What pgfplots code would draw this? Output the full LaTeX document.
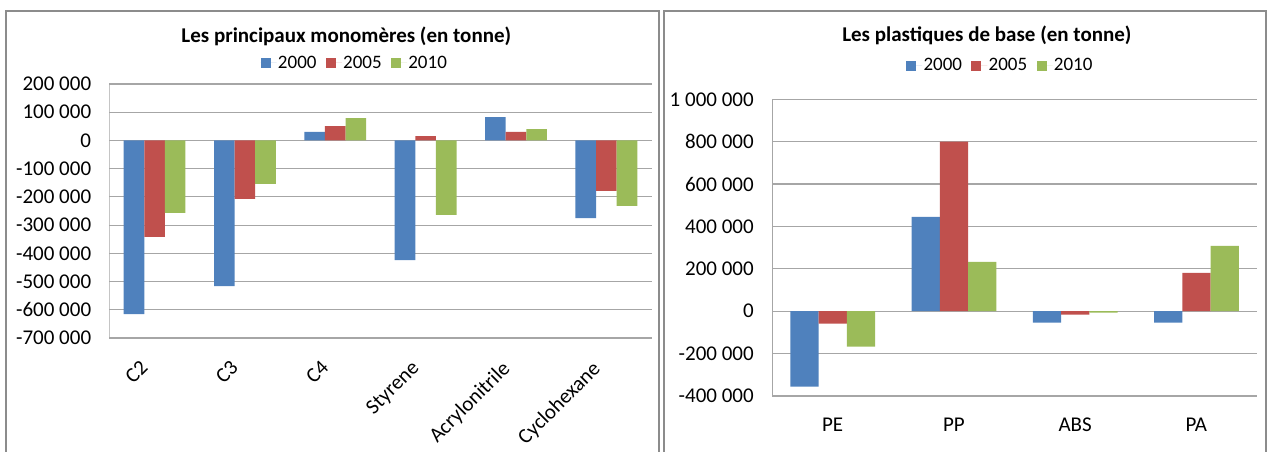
\documentclass[border=0pt]{standalone}
\usepackage{pgfplots}
\pgfplotsset{compat=1.18}
\usepackage{pgfplotstable}
\usepackage{fontspec}
\setmainfont{Carlito}
\definecolor{cA}{HTML}{4F81BD}
\definecolor{cB}{HTML}{C0504D}
\definecolor{cC}{HTML}{9BBB59}
\definecolor{gridc}{HTML}{A6A6A6}
\definecolor{framec}{HTML}{8C8C8C}

\pgfplotstableread{
x y2000 y2005 y2010
0 -615000 -342000 -257000
1 -516000 -207000 -154000
2 30000 51000 79000
3 -424000 15000 -264000
4 83000 30000 40000
5 -275000 -179000 -232000
}\monomeres

\pgfplotstableread{
x y2000 y2005 y2010
0 -356000 -58000 -167000
1 445000 800000 233000
2 -54000 -16000 -6000
3 -54000 181000 308000
}\plastiques

\pgfplotsset{
  excel/.style={
    scale only axis, ybar, enlargelimits=false,
    axis line style={draw=none},
    major tick length=0pt,
    ymajorgrids, grid style={gridc, line width=0.9pt},
    xtick=data, scaled y ticks=false,
    yticklabel style={font=\fontsize{15.75}{18}\selectfont, anchor=east, inner sep=0pt, xshift=-13.5pt},
    legend columns=3,
    legend style={draw=none, fill=none, font=\fontsize{14.25}{16}\selectfont, inner sep=0pt,
      nodes={inner sep=1pt},
      /tikz/every even column/.append style={column sep=6pt}},
    legend image code/.code={\fill[##1] (0pt,-3.75pt) rectangle (7.5pt,3.75pt); \path (0pt,0pt) -- (12pt,0pt);},
    title style={font=\bfseries\fontsize{15.75}{18}\selectfont},
  }
}

\begin{document}
\begin{tikzpicture}
\path[use as bounding box] (0,0) rectangle (951pt,338.25pt);
\draw[framec, line width=1.1pt] (4.5pt,-2pt) -- (4.5pt,330pt) -- (494.25pt,330pt) -- (494.25pt,-2pt);
\draw[framec, line width=1.1pt] (498pt,-2pt) -- (498pt,330pt) -- (949.5pt,330pt) -- (949.5pt,-2pt);

\begin{scope}[shift={(82.05pt,84.75pt)}]
\begin{axis}[excel,
  at={(0pt,0pt)}, anchor=south west,
  width=406.6pt, height=190.5pt,
  xmin=-0.5, xmax=5.5, ymin=-700000, ymax=200000,
  bar width=0.228,
  ytick={-700000,-600000,-500000,-400000,-300000,-200000,-100000,0,100000,200000},
  yticklabels={-700 000,-600 000,-500 000,-400 000,-300 000,-200 000,-100 000,0,100 000,200 000},
  xticklabels={C2,C3,C4,Styrene,Acrylonitrile,Cyclohexane},
  xticklabel style={font=\fontsize{15.75}{18}\selectfont, inner sep=0pt, xshift=-11.5pt, yshift=-16pt, rotate=45, anchor=north east},
  title={Les principaux monomères (en tonne)},
  title style={at={(0.437,1.158)}, anchor=center},
  legend style={at={(0.452,1.083)}, anchor=center},
]
\addplot[fill=cA, draw=none, bar shift=-0.228] table[x=x,y=y2000] {\monomeres};
\addplot[fill=cB, draw=none, bar shift=0] table[x=x,y=y2005] {\monomeres};
\addplot[fill=cC, draw=none, bar shift=0.228] table[x=x,y=y2010] {\monomeres};
\legend{2000,2005,2010}
\draw[gridc, line width=0.9pt] (rel axis cs:0,0) -- (rel axis cs:0,1);
\end{axis}
\end{scope}

\begin{scope}[shift={(579pt,41.25pt)}]
\begin{axis}[excel,
  at={(0pt,0pt)}, anchor=south west,
  width=363.75pt, height=222.5pt,
  xmin=-0.5, xmax=3.5, ymin=-400000, ymax=1000000,
  bar width=0.233,
  ytick={-400000,-200000,0,200000,400000,600000,800000,1000000},
  yticklabels={-400 000,-200 000,0,200 000,400 000,600 000,800 000,1 000 000},
  xticklabels={PE,PP,ABS,PA},
  xticklabel style={font=\fontsize{15.75}{18}\selectfont, inner sep=0pt, yshift=-16.5pt, anchor=north},
  title={Les plastiques de base (en tonne)},
  title style={at={(0.443,1.19)}, anchor=center},
  legend style={at={(0.470,1.113)}, anchor=center},
]
\addplot[fill=cA, draw=none, bar shift=-0.233] table[x=x,y=y2000] {\plastiques};
\addplot[fill=cB, draw=none, bar shift=0] table[x=x,y=y2005] {\plastiques};
\addplot[fill=cC, draw=none, bar shift=0.233] table[x=x,y=y2010] {\plastiques};
\legend{2000,2005,2010}
\draw[gridc, line width=0.9pt] (rel axis cs:0,0) -- (rel axis cs:0,1);
\end{axis}
\end{scope}
\end{tikzpicture}
\end{document}
